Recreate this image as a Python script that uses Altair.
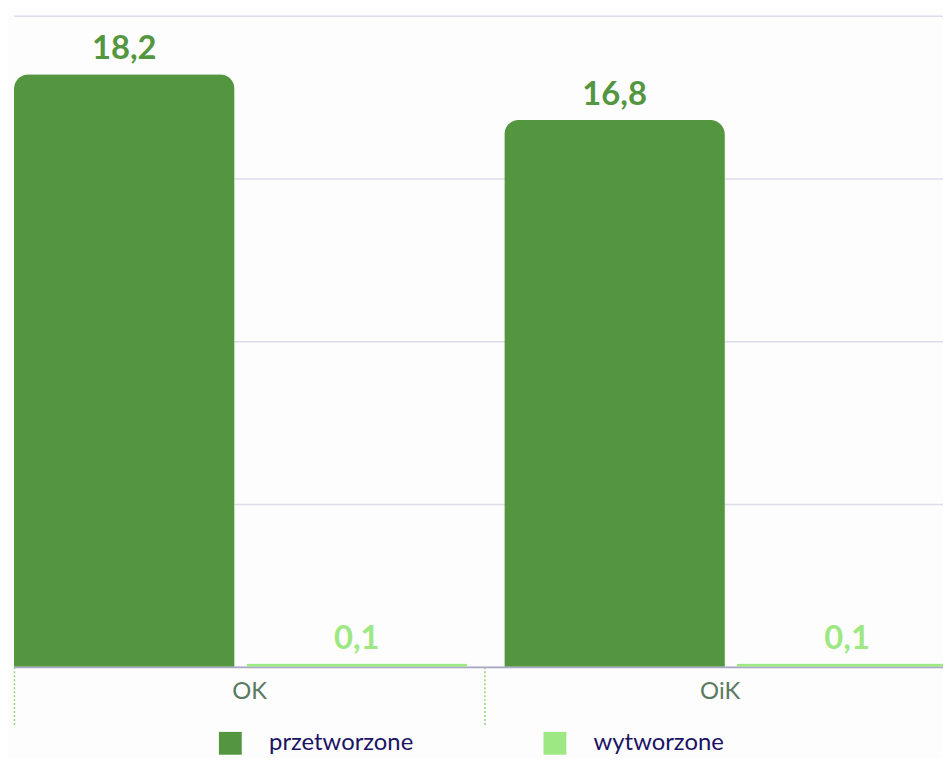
import altair as alt
import pandas as pd

# ---- data ----
categories = ["OK", "OK", "OiK", "OiK"]
series = ["przetworzone", "wytworzone", "przetworzone", "wytworzone"]
values = [18.2, 0.1, 16.8, 0.1]
group_order = ["OK", "OiK"]
series_order = ["przetworzone", "wytworzone"]
colors = ["#54953f", "#9de883"]
y_ticks = [0, 5, 10, 15, 20]

df = pd.DataFrame({"kat": categories, "seria": series, "wartosc": values})
df_axis = pd.DataFrame({"kat": group_order})

# bars / value labels: groups 494 px apart, no axis of their own
x_bars = alt.X("kat:N", sort=group_order, title=None, axis=None,
               scale=alt.Scale(paddingInner=0, paddingOuter=0))
xoff = alt.XOffset("seria:N", sort=series_order,
                   scale=alt.Scale(paddingInner=0.0513, paddingOuter=0.08, align=0))
y = alt.Y(
    "wartosc:Q", title=None, scale=alt.Scale(domain=[0, 20]),
    axis=alt.Axis(values=y_ticks, labels=False, ticks=False, domain=False,
                  gridColor="#dcdcea", gridWidth=1.5),
)
color = alt.Color(
    "seria:N", sort=series_order,
    scale=alt.Scale(domain=series_order, range=colors),
    legend=alt.Legend(title=None, orient="none", legendX=206, legendY=721,
                      direction="horizontal", columns=2, symbolType="square",
                      symbolSize=529, symbolStrokeWidth=0, labelFont="Lato",
                      labelFontSize=24, labelColor="#1b1464", labelOffset=27,
                      columnPadding=130, padding=0),
)

bars = alt.Chart(df).mark_bar(cornerRadiusTopLeft=15, cornerRadiusTopRight=15).encode(
    x=x_bars, xOffset=xoff, y=y, color=color
)
text = alt.Chart(df).transform_calculate(
    lab="replace(format(datum.wartosc, '.1f'), '.', ',')"
).mark_text(font="Lato", fontWeight="bold", fontSize=33, baseline="bottom", dy=-8).encode(
    x=x_bars, xOffset=xoff, y=y, text="lab:N", color=color
)

# category axis (ticks at category edges, 474 px apart)
axis_layer = alt.Chart(df_axis).mark_point(opacity=0).encode(
    x=alt.X("kat:N", sort=group_order, title=None,
            scale=alt.Scale(paddingInner=0, paddingOuter=0.0422, align=0),
            axis=alt.Axis(labelAngle=0, labelFont="Lato", labelFontSize=24,
                          labelColor="#5b7a5f", tickBand="extent", tickSize=59,
                          tickColor="#8fd47a", tickDash=[2, 2], tickWidth=1.5,
                          domainColor="#aaa8c8", domainWidth=2, labelPadding=-46,
                          grid=False)),
)

chart = alt.layer(bars, text, axis_layer).resolve_scale(x="independent").properties(
    width=988, height=656,
    autosize=alt.AutoSizeParams(type="none"),
    padding={"left": 6, "top": 5, "right": -52, "bottom": 89},
    background="#fdfdfe",
).configure_view(stroke=None)

chart.save("out.html", embed_options={"renderer": "svg", "actions": False})
